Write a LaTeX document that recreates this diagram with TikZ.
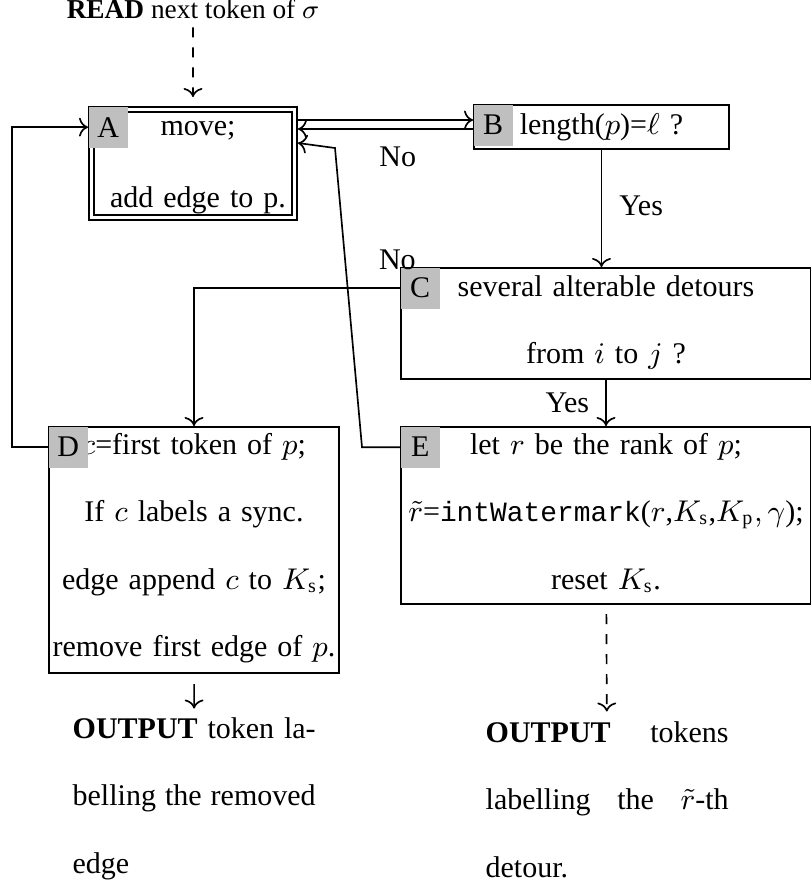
\documentclass[tikz,border=0pt]{standalone}
\usepackage{fontspec}
\setmainfont{Liberation Serif}
\setmonofont{Liberation Mono}[Scale=0.93]
\usepackage{tikz}
\usetikzlibrary{arrows.meta,positioning,calc}

\begin{document}
\begin{tikzpicture}[
  x=0.3pt, y=-0.3pt,
  >=To,
  font={\fontsize{9}{20.25}\selectfont},
  procbox/.style={draw, line width=0.6pt, inner sep=0pt, align=center, anchor=north west},
  startbox/.style={procbox, double, line width=0.5pt, double distance=1pt, outer sep=1pt},
  tag/.style={fill=black!25, inner sep=0pt, minimum width=11.7pt, minimum height=12.3pt,
    anchor=north west},
  outtext/.style={inner sep=0pt, text width=72.9pt, align=justify, anchor=base west},
  lbl/.style={inner sep=0pt},
  arr/.style={->, line width=0.5pt},
  dasharr/.style={arr, dashed},
]
\useasboundingbox (0,0) rectangle (811,888);

% Input
\node[lbl, anchor=base, font={\fontsize{8.2}{10}\selectfont}] (read) at (193,18)
  {\textbf{READ} next token of $\sigma$};

% Boxes
\node[startbox, text width=61pt, text height=7.7pt, text depth=24.8pt,
  font={\fontsize{9}{21.6}\selectfont}] (A) at (88,106) {\hspace*{3pt}move;\\\hspace*{3pt}add edge to p.};
\node[procbox, text width=76.5pt, text height=8.7pt, text depth=4.5pt] (B) at (473,104)
  {length($p$)=$\ell$ ?};
\node[procbox, text width=123pt, text height=8.4pt, text depth=24.9pt] (C) at (400,267)
  {several alterable detours\\from $i$ to $j$ ?};
\node[procbox, text width=87pt, text height=8.1pt, text depth=65.7pt] (D) at (48,426)
  {$c$=first token of $p$;\\If $c$ labels a sync.\\edge append $c$ to $K_\mathrm{s}$;\\remove first edge of $p$.};
\node[procbox, text width=123pt, text height=8.1pt, text depth=45pt] (E) at (400,426)
  {let $r$ be the rank of $p$;\\$\tilde{r}$=\texttt{intWatermark}($r$,$K_\mathrm{s}$,$K_\mathrm{p}, \gamma$);\\reset $K_\mathrm{s}$.};

% Tags
\node[tag] (tagA) at (A.north west) {A};
\node[tag] (tagB) at (B.north west) {B};
\node[tag] (tagC) at (C.north west) {C};
\node[tag] (tagD) at (D.north west) {D};
\node[tag] (tagE) at (E.north west) {E};

% Output
\node[outtext] (outL) at (72,738)
  {\textbf{OUTPUT} token la-\linebreak belling the removed\linebreak edge};
\node[outtext] (outR) at (485,742)
  {\textbf{OUTPUT} tokens\linebreak labelling the $\tilde{r}$-th\linebreak detour.};

% Arrows
\coordinate (ab) at ([yshift=2.1pt]B.west);
\coordinate (ba) at ([yshift=-0.6pt]B.west);
\draw[dasharr, shorten <=2.5pt, shorten >=2.7pt] (read) -- (A);
\draw[arr] (A.east |- ab) -- (ab);
\draw[arr] (ba) -- (A.east |- ba) node[lbl, pos=0.43, below=5.1pt] {No};
\draw[arr] (B) -- (B.south |- C.north) node[lbl, pos=0.48, right=5.1pt] {Yes};
\draw[arr] (tagC.west) -| (D.north) node[lbl, at start, above=5.4pt, xshift=-0.8pt] {No};
\draw[arr] (C) -- (E) node[lbl, midway, left=4.8pt] {Yes};
\draw[arr] (tagD.west) -- ++(-36,0) |- (tagA.west);
\draw[arr] (tagE.west) -- ++(-38,0) -- (335,148) -- (A.east |- 0,143);
\draw[arr, shorten <=3pt, shorten >=2.4pt] (D) -- (outL);
\draw[dasharr, shorten <=2.7pt, shorten >=2.7pt] (E) -- (outR);
\end{tikzpicture}
\end{document}
